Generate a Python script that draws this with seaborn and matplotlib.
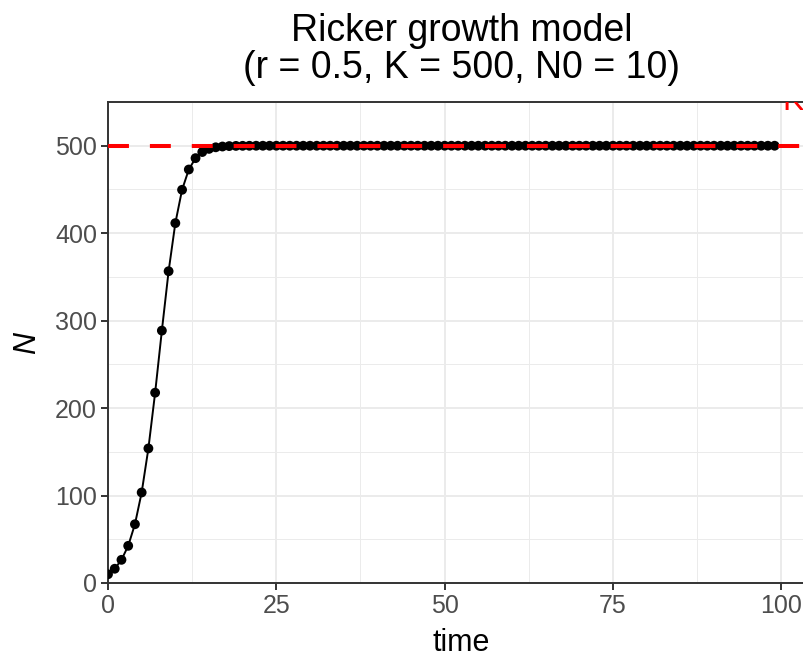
import matplotlib
matplotlib.use("Agg")
import matplotlib.pyplot as plt
import seaborn as sns
import pandas as pd
from matplotlib.ticker import MultipleLocator

# Ricker model output
time = list(range(100))
n_growth = [10.0, 16.3, 26.5, 42.5, 67.2, 103.5, 153.9, 217.6, 288.6, 356.5,
            411.5, 449.6, 472.8, 485.8, 492.8, 496.4, 498.2, 499.1, 499.6, 499.8]
n_plateau = [499.9, 499.95, 499.98, 499.99, 500.0, 500.0, 500.0, 500.0, 500.0, 500.0,
             500.0, 500.0, 500.0, 500.0, 500.0, 500.0, 500.0, 500.0, 500.0, 500.0,
             500.0, 500.0, 500.0, 500.0, 500.0, 500.0, 500.0, 500.0, 500.0, 500.0,
             500.0, 500.0, 500.0, 500.0, 500.0, 500.0, 500.0, 500.0, 500.0, 500.0,
             500.0, 500.0, 500.0, 500.0, 500.0, 500.0, 500.0, 500.0, 500.0, 500.0,
             500.0, 500.0, 500.0, 500.0, 500.0, 500.0, 500.0, 500.0, 500.0, 500.0,
             500.0, 500.0, 500.0, 500.0, 500.0, 500.0, 500.0, 500.0, 500.0, 500.0,
             500.0, 500.0, 500.0, 500.0, 500.0, 500.0, 500.0, 500.0, 500.0, 500.0]
K = 500

df = pd.DataFrame({"time": time, "N": n_growth + n_plateau})

sns.set_theme(style="white")
plt.rcParams["font.family"] = ["Liberation Sans", "DejaVu Sans"]

fig = plt.figure(figsize=(8.04, 6.59), dpi=100)
ax = fig.add_axes([108 / 804, 76 / 659, 707 / 804, 481 / 659])

# grid
ax.xaxis.set_major_locator(MultipleLocator(25))
ax.xaxis.set_minor_locator(MultipleLocator(12.5))
ax.yaxis.set_major_locator(MultipleLocator(100))
ax.yaxis.set_minor_locator(MultipleLocator(50))
ax.grid(which="major", color="#EBEBEB", linewidth=1.4)
ax.grid(which="minor", color="#EBEBEB", linewidth=0.7)
ax.set_axisbelow(True)

sns.lineplot(data=df, x="time", y="N", color="black", linewidth=1.4, ax=ax, zorder=2)
sns.scatterplot(data=df, x="time", y="N", color="black", s=50, edgecolor="none", ax=ax, zorder=3)
ax.axhline(K, color="red", linewidth=2.9, dashes=(5.2, 5.2), zorder=4)
ax.text(101.8, 550, "K", color="red", fontsize=23, ha="center", va="center", clip_on=True, zorder=5)

ax.set_xlim(0, 105)
ax.set_ylim(0, 550)

for s in ax.spines.values():
    s.set_color("#333333")
    s.set_linewidth(1.4)

ax.tick_params(which="major", direction="out", length=5, width=1.4, color="#333333",
               labelsize=18, labelcolor="#4D4D4D", left=True, bottom=True, pad=3)
ax.tick_params(which="minor", length=0)

ax.set_xlabel("time", fontsize=22, color="black", labelpad=7)
ax.set_ylabel("N", fontsize=22, color="black", style="italic", labelpad=9)
ax.set_title("Ricker growth model\n(r = 0.5, K = 500, N0 = 10)", fontsize=27,
             color="black", linespacing=1.05, pad=17)

fig.savefig("out.png", dpi=100)
